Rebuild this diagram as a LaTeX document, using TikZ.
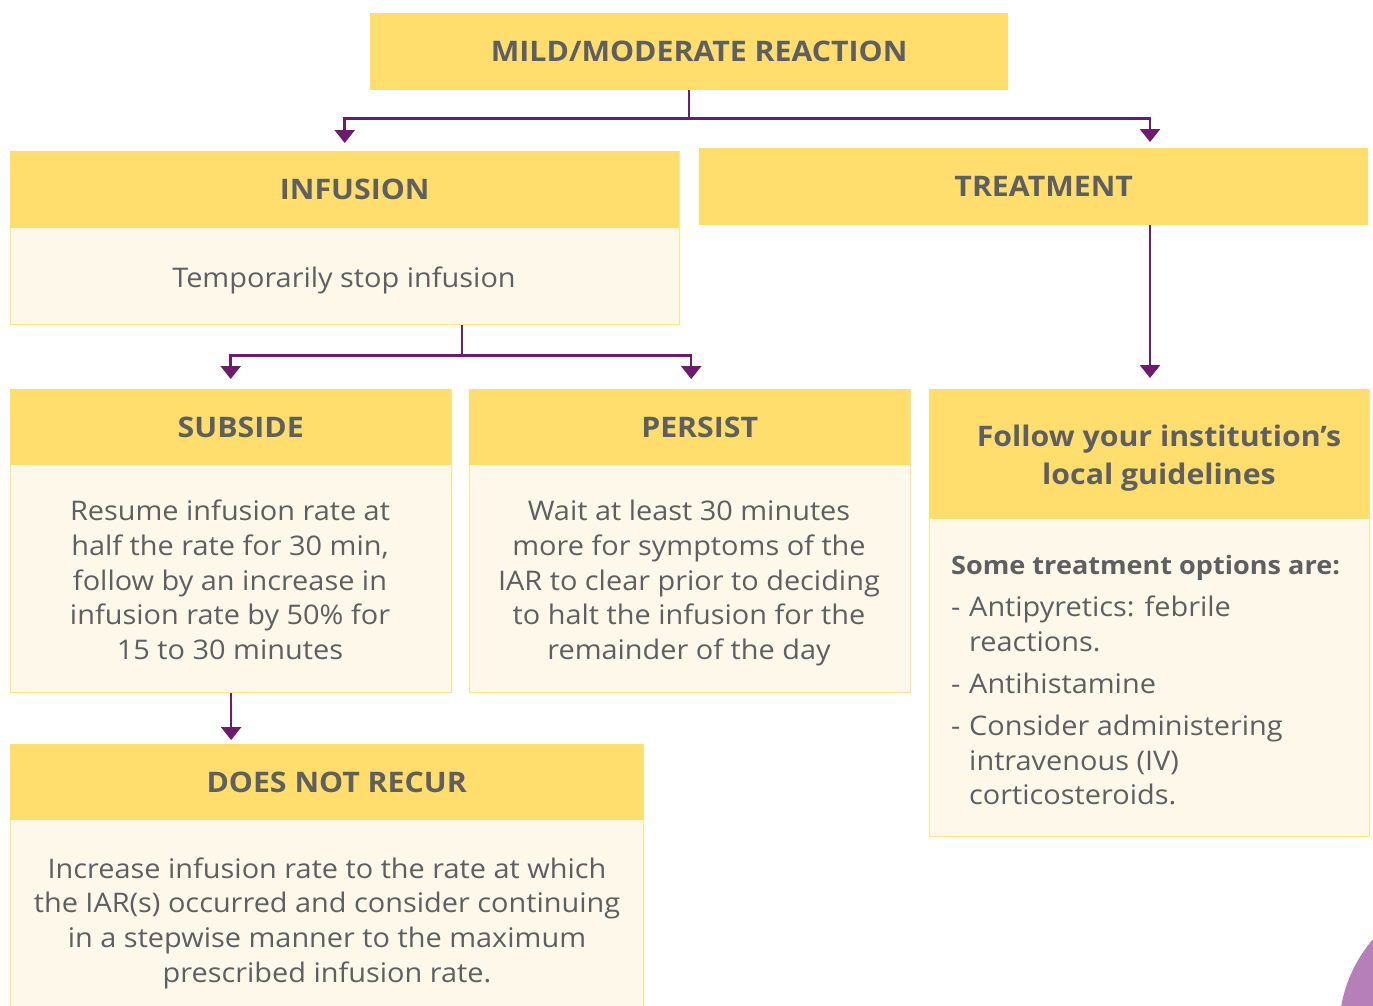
\documentclass[tikz,border=0pt]{standalone}
\usepackage{fontspec}
\setmainfont{Open Sans}[FakeStretch=1.07]
\usetikzlibrary{arrows.meta,calc}
\definecolor{hdrc}{HTML}{FFDE6D}
\definecolor{bodyc}{HTML}{FEF8EA}
\definecolor{bordc}{HTML}{FDE58C}
\definecolor{txtc}{HTML}{5E5F61}
\definecolor{purp}{HTML}{6D1A6F}
\definecolor{lilac}{HTML}{B67FB9}
\begin{document}
\begin{tikzpicture}[x=1pt,y=-1pt,
  hdrbox/.style={fill=hdrc, draw=none, inner sep=0pt, anchor=north west, text=txtc,
    align=center, font=\bfseries\fontsize{28.3}{38}\selectfont},
  outbox/.style={fill=bodyc, draw=bordc, line width=1.3pt, inner sep=0pt, anchor=north west},
  bodytxt/.style={text=txtc, align=center, inner sep=0pt, font=\fontsize{27}{34.7}\selectfont},
  listtxt/.style={text=txtc, inner sep=0pt, anchor=base west, font=\fontsize{27}{34.7}\selectfont},
  conn/.style={draw=purp, line width=2.5pt, -{Triangle[width=20pt,length=13pt]}}]
\useasboundingbox (0,0) rectangle (1373,1005);
\fill[white] (0,0) rectangle (1373,1005);
\begin{scope}
  \clip (0,0) rectangle (1373,1005);
  \fill[lilac] (1480,1031) circle (141);
\end{scope}

% top
\node[hdrbox, minimum width=638, minimum height=77] (top) at (370,13) {\hspace*{20pt}MILD/MODERATE REACTION};
% treatment
\node[hdrbox, minimum width=669, minimum height=77] (treatH) at (699,148) {\hspace*{20pt}TREATMENT};
% infusion
\node[outbox, minimum width=669, minimum height=173] (infB) at (10,151) {};
\node[hdrbox, minimum width=669, minimum height=77] (infH) at (10,151) {\hspace*{20pt}INFUSION};
\node[bodytxt] (infT) at (344,280) {Temporarily stop infusion};
% subside
\node[outbox, minimum width=441, minimum height=303] (subB) at (10,389) {};
\node[hdrbox, minimum width=441, minimum height=76] (subH) at (10,389) {\hspace*{20pt}SUBSIDE};
\node[bodytxt] (subT) at (230,580) {Resume infusion rate at\\half the rate for 30 min,\\follow by an increase in\\infusion rate by 50\% for\\15 to 30 minutes};
% persist
\node[outbox, minimum width=441, minimum height=303] (perB) at (469,389) {};
\node[hdrbox, minimum width=441, minimum height=76] (perH) at (469,389) {\hspace*{20pt}PERSIST};
\node[bodytxt] (perT) at (689,583) {Wait at least 30 minutes\\more for symptoms of the\\IAR to clear prior to deciding\\to halt the infusion for the\\remainder of the day};
% follow
\node[outbox, minimum width=440, minimum height=447] (folB) at (929,389) {};
\node[hdrbox, minimum width=440, minimum height=130] (folH) at (929,389) {};
\node[text=txtc, align=center, inner sep=0pt, font=\bfseries\fontsize{28.3}{38}\selectfont] (folT) at (1159,458) {Follow your institution’s\\local guidelines};
\node[listtxt, font=\bfseries\fontsize{25.3}{34}\selectfont] (optT) at (951,574) {Some treatment options are:};
\node[listtxt] (d1) at (951,616) {-};
\node[listtxt] (l1a) at (969,616) {Antipyretics: febrile};
\node[listtxt] (l1b) at (969,651) {reactions.};
\node[listtxt] (d2) at (951,693) {-};
\node[listtxt] (l2a) at (969,693) {Antihistamine};
\node[listtxt] (d3) at (951,735) {-};
\node[listtxt] (l3a) at (969,735) {Consider administering};
\node[listtxt] (l3b) at (969,770) {intravenous (IV)};
\node[listtxt] (l3c) at (969,804) {corticosteroids.};
% does not recur
\node[outbox, minimum width=633, minimum height=270] (dnrB) at (10,744) {};
\node[hdrbox, minimum width=633, minimum height=76] (dnrH) at (10,744) {\hspace*{20pt}DOES NOT RECUR};
\node[bodytxt] (dnrT) at (327,923) {Increase infusion rate to the rate at which\\the IAR(s) occurred and consider continuing\\in a stepwise manner to the maximum\\prescribed infusion rate.};

% connectors
\coordinate (split1) at ($(top.south)+(0,28)$);
\coordinate (treatIn) at ($(treatH.north west)+(451,0)$);
\draw[conn, shorten >=8pt] (top.south) -- (split1) -| (infH.north);
\draw[conn, shorten >=6pt] (top.south) -- (split1) -| (treatIn);
\coordinate (infOut) at ($(infB.south west)+(452,0)$);
\coordinate (split2) at ($(infOut)+(0,30)$);
\coordinate (perIn) at ($(perH.north)+(1.5,0)$);
\draw[conn, shorten >=10pt] (infOut) -- (split2) -| (subH.north);
\draw[conn, shorten >=10pt] (infOut) -- (split2) -| (perIn);
\coordinate (treatOut) at ($(treatH.south west)+(451,0)$);
\draw[conn, shorten >=11pt] (treatOut) -- (treatOut |- folH.north);
\draw[conn, shorten >=4pt] (subB.south) -- (subB.south |- dnrH.north);
\end{tikzpicture}
\end{document}
